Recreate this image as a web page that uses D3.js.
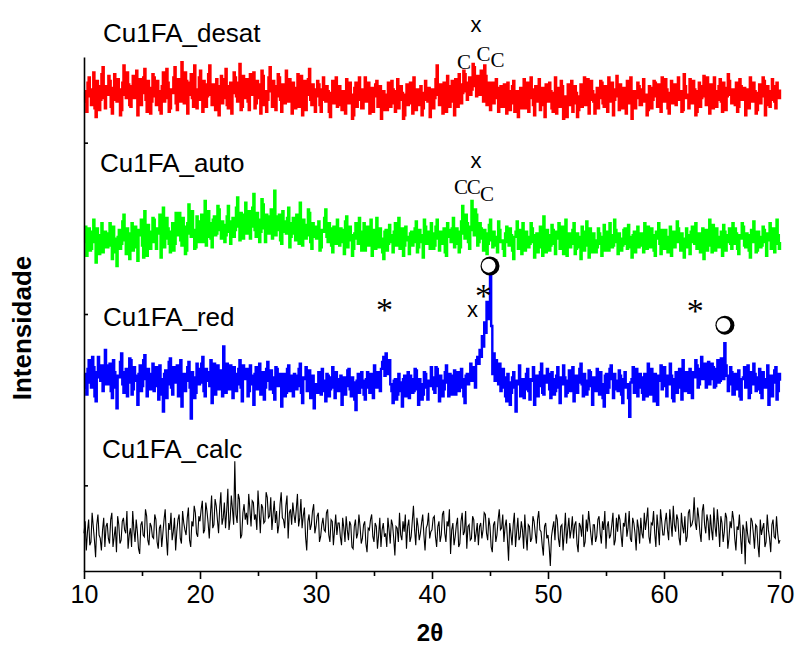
<!DOCTYPE html>
<html>
<head>
<meta charset="utf-8">
<script src="https://cdn.jsdelivr.net/npm/d3@7"></script>
<style>
  html, body { margin: 0; padding: 0; background: #fff; }
  svg { display: block; }
</style>
</head>
<body>
<svg id="chart" width="796" height="648"></svg>
<script>
// ---------------- DATA ----------------
const thetaStart = 10;
const thetaStep = 0.1;
const xTicks = [10, 20, 30, 40, 50, 60, 70];
const xMinorTicks = [15, 25, 35, 45, 55, 65];
const yTicks = [50, 150, 250];
const sampleNames = ["Cu1FA_desat", "Cu1FA_auto", "Cu1FA_red", "Cu1FA_calc"];
const sampleOffsets = [250, 170, 85, 0];

const desat = [
30,24,18,35,38,27,22,31,41,20,15,36,33,19,25,40,44,26,20,33,
28,39,36,21,17,32,40,25,24,37,31,16,19,35,45,28,26,41,34,22,
21,33,39,26,27,42,16,30,37,22,29,38,43,25,18,36,32,17,24,40,
38,27,22,36,30,19,17,33,41,24,26,43,35,18,20,31,29,38,44,23,
19,37,33,24,47,30,23,41,36,17,28,35,40,26,21,45,31,20,25,38,
42,25,18,36,34,21,27,40,45,28,22,34,30,19,37,27,16,33,39,23,
26,37,43,22,20,33,35,17,29,41,38,27,24,35,46,19,21,39,32,26,
37,24,19,40,28,33,41,20,23,36,34,26,17,42,39,22,30,18,25,38,
44,30,21,36,33,19,27,40,38,25,18,34,31,23,42,28,24,37,29,17,
35,24,20,32,40,21,26,39,16,30,36,19,28,37,43,25,22,34,31,18,
27,36,34,22,18,31,38,25,24,33,30,18,15,29,36,23,26,38,21,30,
33,22,19,30,29,17,37,26,23,35,28,14,16,32,35,21,25,38,31,20,
20,31,38,24,26,35,17,29,32,18,27,34,36,21,22,33,14,27,30,19,
28,19,35,26,21,36,31,23,18,30,37,20,25,33,29,14,16,28,34,22,
23,35,30,17,38,26,19,31,27,22,33,16,20,29,36,25,24,32,15,28,
31,20,26,37,45,28,22,34,29,17,35,26,18,39,33,21,27,36,24,16,
37,26,21,40,34,23,29,42,40,30,25,35,38,28,31,46,44,33,27,39,
36,28,42,31,24,45,39,22,30,35,19,29,35,23,26,37,32,18,21,33,
28,21,34,26,17,35,30,19,23,33,36,18,25,30,15,24,32,20,27,37,
20,30,35,18,26,38,31,22,16,33,29,24,37,19,22,32,28,15,34,25,
24,35,30,20,18,29,38,17,26,32,21,36,33,14,27,23,15,34,31,22,
36,18,23,33,29,15,19,27,34,21,28,38,22,30,37,17,25,36,30,24,
17,28,32,20,26,36,35,23,21,33,29,18,38,27,24,35,16,25,31,39,
27,19,34,25,20,32,29,17,36,27,23,38,14,24,30,20,26,35,33,22,
22,31,37,24,28,16,19,33,32,20,25,36,35,27,21,34,29,18,38,26,
24,37,31,20,17,29,36,23,27,34,22,30,38,25,30,18,19,40,33,26,
28,20,37,25,23,36,31,16,18,30,35,21,26,33,39,27,22,38,29,17,
34,26,20,38,30,21,25,33,37,24,18,35,32,19,27,40,36,28,23,31,
29,22,35,18,21,37,33,25,26,32,16,28,31,20,38,27,24,35,30,17,
19,29,34,23,27,38,36,16,22,33,30,21,25,37,33,24,20,35,28,26,
31];

const auto = [
22,31,14,24,30,17,18,28,35,22,10,30,26,15,20,33,16,25,28,19,
19,27,33,20,12,31,24,16,8,25,29,18,21,34,38,23,15,30,27,12,
23,33,17,26,31,19,11,29,26,35,20,13,40,27,14,32,28,18,22,36,
35,22,18,30,27,38,13,25,42,19,24,36,30,21,16,28,33,17,21,39,
26,32,39,23,20,36,31,15,17,33,44,27,25,40,29,18,19,37,34,22,
28,38,22,31,46,20,25,40,33,24,19,35,37,26,27,43,41,29,24,34,
32,22,26,37,43,28,21,34,36,25,29,42,48,31,23,39,38,24,30,45,
27,36,40,24,31,42,50,29,25,39,35,22,28,47,44,30,22,38,37,27,
33,41,24,30,52,26,29,37,38,23,21,40,34,28,27,36,42,19,25,33,
36,27,23,38,30,21,45,29,20,35,32,24,26,41,39,22,18,33,31,25,
24,31,34,17,19,29,28,36,41,25,22,33,30,20,16,31,27,21,35,26,
20,30,29,22,15,34,37,19,23,31,26,14,18,27,33,24,21,36,28,17,
25,33,17,26,31,20,22,35,14,29,27,18,36,23,19,30,24,16,12,28,
29,17,21,32,26,22,16,28,33,20,23,36,18,27,30,14,20,31,25,23,
15,27,28,20,22,30,34,16,19,29,26,22,13,35,31,21,24,28,18,33,
27,18,20,31,35,24,17,28,25,21,30,16,14,33,29,25,22,30,36,19,
21,30,28,16,19,34,43,27,24,38,33,22,18,31,46,29,26,41,38,20,
22,33,30,24,17,29,27,15,21,32,35,23,19,28,25,20,16,34,29,22,
23,18,14,27,31,22,20,30,26,17,12,25,28,34,18,29,24,15,33,21,
17,28,25,19,21,33,30,22,13,26,27,16,19,31,23,14,37,24,16,29,
26,17,20,32,29,21,15,28,24,33,18,26,31,15,22,35,14,23,27,19,
21,29,33,15,18,27,25,19,12,31,28,17,20,34,24,13,30,22,16,27,
23,16,19,30,27,21,14,25,32,17,21,28,17,33,26,19,20,35,29,22,
15,27,24,17,20,29,30,21,18,32,25,19,13,26,28,16,22,31,19,24,
27,20,16,33,23,18,31,24,19,30,26,17,14,28,24,33,21,15,29,22,
18,29,25,16,20,31,14,26,28,19,22,34,30,22,17,27,24,13,19,30,
26,19,15,28,31,22,21,33,18,25,27,16,23,30,12,24,29,17,20,35,
24,16,32,23,17,30,25,19,20,28,14,32,28,17,22,26,30,21,18,33,
21,30,27,18,15,26,24,33,31,20,19,27,26,17,13,29,22,34,28,16,
17,28,25,19,20,31,29,22,14,27,23,33,18,24,30,16,21,35,26,18,
22];

const red = [
30,22,18,33,38,25,22,40,34,17,14,31,40,28,26,35,20,32,44,24,
24,35,36,20,16,38,31,22,10,29,28,37,42,24,19,31,33,17,25,39,
38,18,21,34,29,26,12,30,35,20,23,38,41,27,17,33,30,21,26,36,
20,31,34,23,15,35,27,18,8,30,32,16,24,37,39,22,18,34,29,25,
35,17,22,38,11,27,30,20,26,34,37,22,4,31,28,16,19,36,33,24,
25,36,40,20,17,33,31,26,23,38,13,29,36,18,27,35,21,30,32,17,
46,28,19,36,28,21,35,24,16,34,30,20,24,33,38,22,14,35,27,31,
33,17,20,35,29,24,12,30,34,21,25,36,18,29,31,15,22,33,37,26,
21,32,28,19,15,34,33,23,26,30,11,27,30,17,19,33,35,20,24,29,
17,30,29,21,23,33,36,19,13,28,27,34,20,26,32,16,25,29,10,24,
24,19,31,23,18,33,26,20,14,30,29,17,21,28,34,22,16,31,27,20,
20,29,12,25,28,18,23,32,33,21,17,28,25,15,9,26,30,19,22,31,
26,18,15,27,31,22,19,30,24,16,35,26,22,31,28,20,33,37,40,29,
42,33,30,38,24,20,13,26,27,15,18,30,25,20,11,27,29,17,21,31,
16,29,27,19,20,33,32,21,12,27,24,15,18,31,30,22,15,26,23,34,
28,21,19,34,33,23,14,29,26,17,21,31,35,25,17,30,29,18,24,32,
18,27,31,20,22,33,27,17,13,29,30,24,28,36,26,31,34,22,38,40,
36,44,40,52,46,60,54,72,62,66,88,58,30,42,26,38,34,24,36,20,
22,33,28,17,14,30,25,12,19,28,31,22,8,26,24,35,17,20,27,16,
21,30,33,20,15,27,26,34,12,22,29,17,23,31,36,19,18,29,25,33,
30,21,16,31,27,18,20,29,34,22,13,28,24,35,28,17,19,26,32,20,
22,34,14,27,29,19,25,33,36,24,17,30,26,18,21,32,31,23,12,28,
27,20,33,25,18,31,24,16,11,29,30,19,22,33,35,27,16,30,26,21,
20,32,29,18,13,27,31,22,24,16,5,25,27,34,19,28,33,17,22,30,
28,19,15,30,25,17,36,26,18,33,23,14,30,22,12,29,26,35,21,27,
34,23,17,29,24,36,29,16,14,27,31,19,22,33,27,15,38,26,20,31,
25,19,33,24,16,31,28,38,35,22,24,33,40,27,30,36,22,29,37,24,
27,36,34,22,23,33,38,25,26,39,33,27,48,35,29,20,24,34,31,18,
18,30,26,21,32,17,15,27,28,34,22,29,35,16,19,31,24,36,30,20,
21,28,33,19,16,31,27,22,23,35,12,26,29,17,25,32,34,15,20,30,
26];

const calc = [
22,29,12,23,30,15,17,34,26,18,8,27,33,21,19,12,24,31,14,26,
28,19,16,30,34,14,20,26,11,32,27,16,18,29,31,24,22,35,13,21,
25,14,35,24,17,30,23,13,10,27,29,21,20,36,32,18,15,28,26,20,
19,33,30,17,13,25,27,14,22,30,36,20,9,28,24,34,18,23,31,12,
23,30,33,19,16,35,28,24,21,31,37,18,14,29,26,38,34,22,20,32,
29,36,41,22,24,40,35,28,19,33,44,25,27,42,38,30,22,37,46,27,
31,40,25,35,48,24,30,44,36,27,64,33,28,45,42,19,21,34,39,30,
34,27,45,36,26,41,40,30,33,24,47,35,22,39,37,28,29,46,43,31,
32,43,24,33,41,28,35,22,27,39,46,31,30,25,38,44,19,34,36,27,
40,33,28,36,45,26,31,42,25,32,37,20,12,29,33,24,27,35,39,22,
26,32,34,17,20,27,31,24,23,34,36,21,17,30,29,15,24,33,21,28,
28,20,15,31,25,17,32,24,18,29,27,14,13,26,30,19,22,33,26,16,
19,27,29,16,11,25,24,30,33,20,17,28,26,13,21,31,14,24,28,20,
22,14,31,24,16,30,27,19,9,26,25,17,34,21,18,29,23,33,13,26,
30,17,20,29,38,24,15,31,26,18,22,28,33,21,12,25,27,34,19,23,
24,31,32,20,14,26,29,17,21,33,35,22,17,29,26,36,10,24,28,15,
20,27,31,14,16,29,34,21,23,35,13,26,27,18,19,32,30,17,22,28,
15,26,28,19,24,34,33,22,18,31,26,14,11,27,29,17,21,30,36,24,
25,33,17,26,30,19,6,28,22,15,27,34,14,23,31,18,20,29,24,13,
33,21,12,27,26,17,19,32,29,22,16,30,35,24,23,15,9,26,28,19,
21,14,3,20,25,29,18,33,30,19,14,26,27,12,22,34,16,24,31,19,
24,32,19,27,29,16,11,28,26,20,33,14,17,30,23,35,28,21,15,27,
27,17,20,30,32,22,16,29,24,35,13,26,29,19,21,27,34,15,18,31,
23,33,30,21,14,28,26,34,20,25,35,19,17,31,28,22,12,30,25,16,
31,22,19,34,24,30,37,20,16,28,27,35,22,14,33,25,15,36,29,21,
21,29,34,24,18,36,28,20,38,27,23,33,30,19,15,34,26,22,32,17,
20,34,36,26,27,30,43,28,24,37,31,22,17,35,39,27,22,33,29,18,
33,24,18,37,26,20,36,27,14,32,28,17,23,34,31,13,19,29,25,35,
30,19,12,26,24,33,20,10,27,24,4,29,22,17,16,31,29,22,13,27,
26,15,8,30,21,25,28,14,17,33,24,19,11,27,30,20,19,32,22,16,
18];

// phase annotations: [symbol, 2theta, intensity level]
const annotations = [
  ["x", 43.8, 318], ["C", 42.75, 297], ["C", 44.45, 302], ["C", 45.65, 298],
  ["x", 43.8, 239], ["C", 42.5, 224], ["C", 43.6, 224], ["C", 44.75, 220],
  ["*", 44.45, 164], ["x", 43.5, 152], ["*", 35.9, 156], ["*", 62.7, 155]
];
const circleMarks = [[45.0, 178], [65.25, 143.5]];

// ---------------- DRAW ----------------
const series = [desat, auto, red, calc];
const colors = ["#FF0000", "#00FF00", "#0000FF", "#000000"];
const widths = [2.4, 2.4, 2.4, 1.1];
const curves = [d3.curveStepAfter, d3.curveStepAfter, d3.curveStepAfter, d3.curveLinear];

const svg = d3.select("#chart");
const x = d3.scaleLinear().domain([10, 70]).range([84, 780]);
const y = d3.scaleLinear().domain([0, 300]).range([571, 57]);

series.forEach((vals, k) => {
  const pts = vals.map((v, i) => [thetaStart + i * thetaStep, v + sampleOffsets[k]]);
  const line = d3.line()
    .x(d => x(d[0]))
    .y(d => y(d[1]))
    .curve(curves[k]);
  svg.append("path")
    .datum(pts)
    .attr("fill", "none")
    .attr("stroke", colors[k])
    .attr("stroke-width", widths[k])
    .attr("stroke-linejoin", "miter")
    .attr("d", line);
});

// x axis
const xAxis = svg.append("g").attr("transform", `translate(0,${y(0)})`)
  .call(d3.axisBottom(x).tickValues(xTicks).tickSize(8).tickSizeOuter(0).tickPadding(6));
xAxis.select(".domain").attr("stroke", "#000").attr("stroke-width", 1.6);
xAxis.selectAll(".tick line").attr("stroke", "#000").attr("stroke-width", 1.6);
xAxis.selectAll(".tick text")
  .attr("font-family", "'Liberation Sans', Arial, sans-serif")
  .attr("font-size", 25).attr("fill", "#000");
const xMinor = svg.append("g").attr("transform", `translate(0,${y(0)})`)
  .call(d3.axisBottom(x).tickValues(xMinorTicks).tickSize(5).tickFormat(""));
xMinor.select(".domain").remove();
xMinor.selectAll(".tick line").attr("stroke", "#000").attr("stroke-width", 1.6);

// y axis (ticks inside, no labels)
const yAxis = svg.append("g").attr("transform", `translate(${x(10)},0)`)
  .call(d3.axisRight(y).tickValues(yTicks).tickSize(4).tickSizeOuter(0).tickFormat(""));
yAxis.select(".domain").attr("stroke", "#000").attr("stroke-width", 1.6);
yAxis.selectAll(".tick line").attr("stroke", "#000").attr("stroke-width", 1.6);

// axis titles
svg.append("text")
  .attr("x", 430).attr("y", 641)
  .attr("text-anchor", "middle")
  .attr("font-family", "'Liberation Sans', Arial, sans-serif")
  .attr("font-weight", "bold").attr("font-size", 24)
  .text("2θ");
svg.append("text")
  .attr("transform", "translate(31,328) rotate(-90)")
  .attr("text-anchor", "middle")
  .attr("font-family", "'Liberation Sans', Arial, sans-serif")
  .attr("font-weight", "bold").attr("font-size", 26)
  .text("Intensidade");

// sample labels
const labelPos = [[103, 42], [100, 172], [103, 326], [102, 458]];
sampleNames.forEach((n, k) => {
  svg.append("text")
    .attr("x", labelPos[k][0]).attr("y", labelPos[k][1])
    .attr("font-family", "'Liberation Sans', Arial, sans-serif")
    .attr("font-size", 26).attr("fill", "#000")
    .text(n);
});

// annotations
annotations.forEach(([s, th, v]) => {
  const t = svg.append("text")
    .attr("x", x(th))
    .attr("text-anchor", "middle")
    .attr("fill", "#000")
    .text(s);
  if (s === "x") {
    t.attr("y", y(v) + 6).attr("font-family", "'Liberation Sans', Arial, sans-serif").attr("font-size", 22);
  } else if (s === "C") {
    t.attr("y", y(v) + 7).attr("font-family", "'Liberation Serif', 'Times New Roman', serif").attr("font-size", 21);
  } else {
    t.attr("y", y(v) + 17).attr("font-family", "'Liberation Serif', 'Times New Roman', serif").attr("font-size", 34);
  }
});

circleMarks.forEach(([th, v]) => {
  const cx = x(th), cy = y(v);
  svg.append("circle").attr("cx", cx).attr("cy", cy).attr("r", 9.5).attr("fill", "#000");
  svg.append("circle").attr("cx", cx - 1.4).attr("cy", cy - 0.3).attr("r", 6.9).attr("fill", "#fff");
});
</script>
</body>
</html>
